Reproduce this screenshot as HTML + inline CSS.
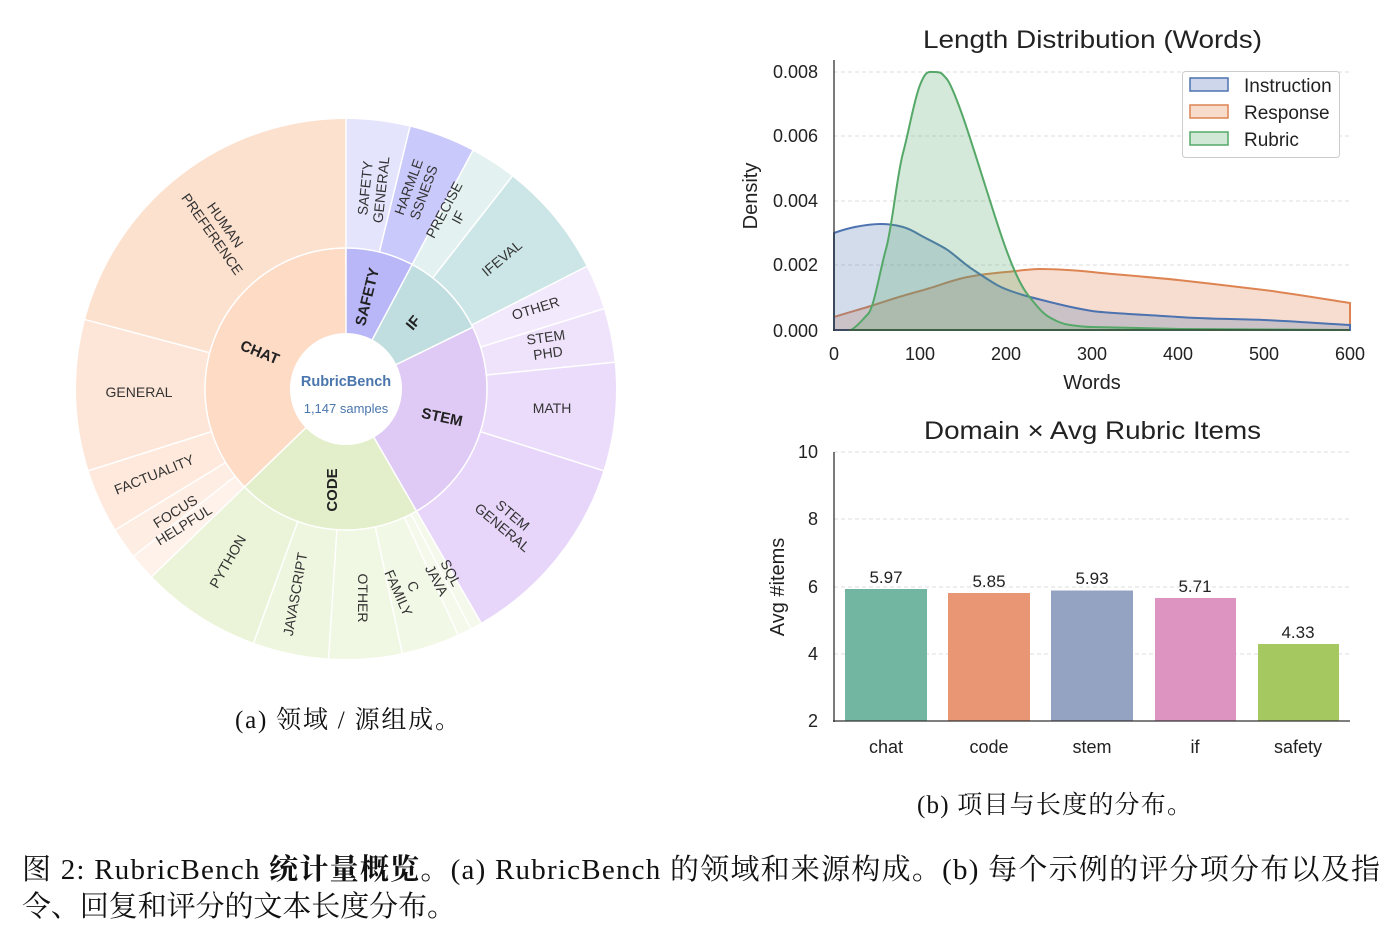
<!DOCTYPE html>
<html><head><meta charset="utf-8"><style>
html,body{margin:0;padding:0;background:#fff;}
body{width:1398px;height:948px;overflow:hidden;position:relative;}
svg{position:absolute;left:0;top:0;}
.ol{font-family:"Liberation Sans",sans-serif;font-size:14px;fill:#333;text-anchor:middle;}
.il{font-family:"Liberation Sans",sans-serif;font-size:15px;font-weight:bold;fill:#222;text-anchor:middle;}
.t{font-family:"Liberation Sans",sans-serif;fill:#222;}
.cap{font-family:"Liberation Serif","Noto Serif CJK SC",serif;fill:#111;}
</style></head><body>
<svg width="1398" height="948" viewBox="0 0 1398 948">
<g transform="translate(346,389) rotate(-90)" fill="none">
<g stroke-width="86">
<circle r="98" pathLength="360" stroke="#fddbc5" stroke-dasharray="134 360" stroke-dashoffset="-226"/>
<circle r="98" pathLength="360" stroke="#e3efcb" stroke-dasharray="76 360" stroke-dashoffset="-150"/>
<circle r="98" pathLength="360" stroke="#dfc9f5" stroke-dasharray="86 360" stroke-dashoffset="-64"/>
<circle r="98" pathLength="360" stroke="#c0dedf" stroke-dasharray="36 360" stroke-dashoffset="-28"/>
<circle r="98" pathLength="360" stroke="#b9b7f8" stroke-dasharray="28 360" stroke-dashoffset="0"/>
</g>
<g stroke-width="129">
<circle r="205.5" pathLength="360" stroke="#e5e4fd" stroke-dasharray="13.7 360" stroke-dashoffset="0"/>
<circle r="205.5" pathLength="360" stroke="#cac9fb" stroke-dasharray="14.3 360" stroke-dashoffset="-13.7"/>
<circle r="205.5" pathLength="360" stroke="#e3f2f1" stroke-dasharray="10 360" stroke-dashoffset="-28"/>
<circle r="205.5" pathLength="360" stroke="#cce5e6" stroke-dasharray="25 360" stroke-dashoffset="-38"/>
<circle r="205.5" pathLength="360" stroke="#f3e9fc" stroke-dasharray="9.7 360" stroke-dashoffset="-63"/>
<circle r="205.5" pathLength="360" stroke="#efe3fb" stroke-dasharray="11.6 360" stroke-dashoffset="-72.7"/>
<circle r="205.5" pathLength="360" stroke="#eadcfa" stroke-dasharray="23.3 360" stroke-dashoffset="-84.3"/>
<circle r="205.5" pathLength="360" stroke="#e7d6fa" stroke-dasharray="42.4 360" stroke-dashoffset="-107.6"/>
<circle r="205.5" pathLength="360" stroke="#f4f9eb" stroke-dasharray="5.5 360" stroke-dashoffset="-150"/>
<circle r="205.5" pathLength="360" stroke="#f2f8e6" stroke-dasharray="12.5 360" stroke-dashoffset="-155.5"/>
<circle r="205.5" pathLength="360" stroke="#f0f7e2" stroke-dasharray="15.7 360" stroke-dashoffset="-168"/>
<circle r="205.5" pathLength="360" stroke="#eef6df" stroke-dasharray="16.3 360" stroke-dashoffset="-183.7"/>
<circle r="205.5" pathLength="360" stroke="#ebf4d8" stroke-dasharray="26 360" stroke-dashoffset="-200"/>
<circle r="205.5" pathLength="360" stroke="#fef2ea" stroke-dasharray="5.8 360" stroke-dashoffset="-226"/>
<circle r="205.5" pathLength="360" stroke="#feede3" stroke-dasharray="6.8 360" stroke-dashoffset="-231.8"/>
<circle r="205.5" pathLength="360" stroke="#fee9dc" stroke-dasharray="13.8 360" stroke-dashoffset="-238.6"/>
<circle r="205.5" pathLength="360" stroke="#fde6d8" stroke-dasharray="32.5 360" stroke-dashoffset="-252.4"/>
<circle r="205.5" pathLength="360" stroke="#fde1cf" stroke-dasharray="75.1 360" stroke-dashoffset="-284.9"/>
</g>
<circle r="141" stroke="#fff" stroke-width="1.5"/>
</g>
<g transform="translate(346,389)" stroke="#fff" stroke-width="1.5">
<g transform="rotate(0)"><line x1="0" y1="-55" x2="0" y2="-272"/></g>
<g transform="rotate(28)"><line x1="0" y1="-55" x2="0" y2="-272"/></g>
<g transform="rotate(64)"><line x1="0" y1="-55" x2="0" y2="-141"/></g>
<g transform="rotate(150)"><line x1="0" y1="-55" x2="0" y2="-272"/></g>
<g transform="rotate(226)"><line x1="0" y1="-55" x2="0" y2="-272"/></g>
<g transform="rotate(13.7)"><line x1="0" y1="-141" x2="0" y2="-272"/></g>
<g transform="rotate(38)"><line x1="0" y1="-141" x2="0" y2="-272"/></g>
<g transform="rotate(63)"><line x1="0" y1="-141" x2="0" y2="-272"/></g>
<g transform="rotate(72.7)"><line x1="0" y1="-141" x2="0" y2="-272"/></g>
<g transform="rotate(84.3)"><line x1="0" y1="-141" x2="0" y2="-272"/></g>
<g transform="rotate(107.6)"><line x1="0" y1="-141" x2="0" y2="-272"/></g>
<g transform="rotate(152.5)"><line x1="0" y1="-141" x2="0" y2="-272"/></g>
<g transform="rotate(155.5)"><line x1="0" y1="-141" x2="0" y2="-272"/></g>
<g transform="rotate(168)"><line x1="0" y1="-141" x2="0" y2="-272"/></g>
<g transform="rotate(183.7)"><line x1="0" y1="-141" x2="0" y2="-272"/></g>
<g transform="rotate(200)"><line x1="0" y1="-141" x2="0" y2="-272"/></g>
<g transform="rotate(231.8)"><line x1="0" y1="-141" x2="0" y2="-272"/></g>
<g transform="rotate(238.6)"><line x1="0" y1="-141" x2="0" y2="-272"/></g>
<g transform="rotate(252.4)"><line x1="0" y1="-141" x2="0" y2="-272"/></g>
<g transform="rotate(284.9)"><line x1="0" y1="-141" x2="0" y2="-272"/></g>
<circle r="55" fill="#fff" stroke="#fff" stroke-width="2"/>
</g>
<text x="346" y="386" font-family="Liberation Sans,sans-serif" font-size="14.5" font-weight="bold" fill="#4a76ad" text-anchor="middle">RubricBench</text>
<text x="346" y="413" font-family="Liberation Sans,sans-serif" font-size="13" fill="#4a76ad" text-anchor="middle">1,147 samples</text>
<text class="il" transform="translate(258,357) rotate(22)">CHAT</text>
<text class="il" transform="translate(372,298) rotate(-76)">SAFETY</text>
<text class="il" transform="translate(417,326) rotate(-50)">IF</text>
<text class="il" transform="translate(441,422) rotate(12)">STEM</text>
<text class="il" transform="translate(337,490) rotate(-90)">CODE</text>
<text class="ol" transform="translate(218,230) rotate(55)"><tspan x="0" y="-4">HUMAN</tspan><tspan x="0" y="12">PREFERENCE</tspan></text>
<text class="ol" x="139" y="397">GENERAL</text>
<text class="ol" transform="translate(156,479) rotate(-22)">FACTUALITY</text>
<text class="ol" transform="translate(180,519) rotate(-32)"><tspan x="0" y="-4">FOCUS</tspan><tspan x="0" y="12">HELPFUL</tspan></text>
<text class="ol" transform="translate(232,564) rotate(-60)">PYTHON</text>
<text class="ol" transform="translate(300,595) rotate(-80)">JAVASCRIPT</text>
<text class="ol" transform="translate(358,598) rotate(90)">OTHER</text>
<text class="ol" transform="translate(405,590) rotate(66)"><tspan x="0" y="-4">C</tspan><tspan x="0" y="12">FAMILY</tspan></text>
<text class="ol" transform="translate(443,577) rotate(62)"><tspan x="0" y="-4">SQL</tspan><tspan x="0" y="12">JAVA</tspan></text>
<text class="ol" transform="translate(507,522) rotate(40)"><tspan x="0" y="-4">STEM</tspan><tspan x="0" y="12">GENERAL</tspan></text>
<text class="ol" x="552" y="413">MATH</text>
<text class="ol" transform="translate(547,346) rotate(-8)"><tspan x="0" y="-4">STEM</tspan><tspan x="0" y="12">PHD</tspan></text>
<text class="ol" transform="translate(537,313) rotate(-17)">OTHER</text>
<text class="ol" transform="translate(505,262) rotate(-40)">IFEVAL</text>
<text class="ol" transform="translate(452,214) rotate(-62)"><tspan x="0" y="-4">PRECISE</tspan><tspan x="0" y="12">IF</tspan></text>
<text class="ol" transform="translate(417,190) rotate(-70)"><tspan x="0" y="-4">HARMLE</tspan><tspan x="0" y="12">SSNESS</tspan></text>
<text class="ol" transform="translate(374,189) rotate(-84)"><tspan x="0" y="-4">SAFETY</tspan><tspan x="0" y="12">GENERAL</tspan></text>

<text class="cap" x="235" y="728" font-size="25" textLength="225" lengthAdjust="spacing">(a) 领域 / 源组成。</text>

<text class="t" x="923" y="48" font-size="25" textLength="339" lengthAdjust="spacingAndGlyphs">Length Distribution (Words)</text>
<g stroke="#ddd" stroke-dasharray="4,3" stroke-width="1">
<line x1="834" y1="72" x2="1350" y2="72"/><line x1="834" y1="136" x2="1350" y2="136"/>
<line x1="834" y1="201" x2="1350" y2="201"/><line x1="834" y1="265" x2="1350" y2="265"/>
</g>
<path d="M834,317 C850,312 865,308 877,304 S905,295 920,291 S950,281 963,278 S995,273 1006,272 S1030,269 1040,269 S1075,270 1092,272 S1150,277 1178,280 S1240,287 1264,290 S1330,300 1350,303 L1350,330 L834,330 Z" fill="#dd8452" fill-opacity="0.28" stroke="#dd8452" stroke-width="2"/>
<path d="M834,233 C845,229 850,228 855,227 S872,224 881,224 S896,225 903,227 S915,232 920,235 S938,244 946,249 S963,263 972,269 S990,281 997,285 S1013,292 1023,295 S1046,301 1058,304 S1080,309 1092,311 S1150,315 1178,317 S1240,319 1264,320 S1330,324 1350,325 L1350,330 L834,330 Z" fill="#4c72b0" fill-opacity="0.25" stroke="#4c72b0" stroke-width="2"/>
<path d="M851,330 C858,326 862,320 868,314 S880,270 886,249 S897,175 903,153 S914,100 920,85 S928,72 935,72 S942,74 946,78 S957,100 963,117 S977,160 985,185 S999,230 1006,249 S1020,285 1028,295 S1042,313 1049,317 S1062,324 1070,325 S1085,327 1092,327 L1180,329 L1350,330 L851,330 Z" fill="#55a868" fill-opacity="0.25" stroke="#55a868" stroke-width="2"/>
<line x1="834" y1="60" x2="834" y2="331" stroke="#333" stroke-width="1.3"/>
<line x1="833" y1="330" x2="1350" y2="330" stroke="#333" stroke-width="1.3"/>
<g class="t" font-size="18" text-anchor="end">
<text x="818" y="78">0.008</text><text x="818" y="142">0.006</text><text x="818" y="207">0.004</text><text x="818" y="271">0.002</text><text x="818" y="337">0.000</text>
</g>
<g class="t" font-size="18" text-anchor="middle">
<text x="834" y="360">0</text><text x="920" y="360">100</text><text x="1006" y="360">200</text><text x="1092" y="360">300</text><text x="1178" y="360">400</text><text x="1264" y="360">500</text><text x="1350" y="360">600</text>
</g>
<text class="t" x="1092" y="389" font-size="20" text-anchor="middle">Words</text>
<text class="t" transform="translate(757,196) rotate(-90)" font-size="20" text-anchor="middle">Density</text>
<rect x="1182.5" y="71.5" width="157" height="86" rx="3" fill="#fff" stroke="#ccc"/>
<rect x="1190" y="78" width="38" height="13" fill="#cdd6ea" stroke="#4c72b0" stroke-width="1.5"/>
<rect x="1190" y="105" width="38" height="13" fill="#f7dbcb" stroke="#dd8452" stroke-width="1.5"/>
<rect x="1190" y="132" width="38" height="13" fill="#d2e8d6" stroke="#55a868" stroke-width="1.5"/>
<g class="t" font-size="19"><text x="1244" y="92">Instruction</text><text x="1244" y="119">Response</text><text x="1244" y="146">Rubric</text></g>

<text class="t" x="924" y="439" font-size="25" textLength="337" lengthAdjust="spacingAndGlyphs">Domain × Avg Rubric Items</text>
<g stroke="#ddd" stroke-dasharray="4,3">
<line x1="834" y1="452" x2="1350" y2="452"/><line x1="834" y1="519" x2="1350" y2="519"/>
<line x1="834" y1="587" x2="1350" y2="587"/><line x1="834" y1="654" x2="1350" y2="654"/>
</g>
<rect x="845" y="589" width="82" height="132" fill="#72b6a1"/>
<rect x="948" y="593" width="82" height="128" fill="#e99675"/>
<rect x="1051" y="590.5" width="82" height="130.5" fill="#95a3c3"/>
<rect x="1155" y="598" width="81" height="123" fill="#dd94c1"/>
<rect x="1258" y="644" width="81" height="77" fill="#a5c861"/>
<g class="t" font-size="17" text-anchor="middle">
<text x="886" y="583">5.97</text><text x="989" y="587">5.85</text><text x="1092" y="584">5.93</text><text x="1195" y="592">5.71</text><text x="1298" y="638">4.33</text>
</g>
<g class="t" font-size="18" text-anchor="middle">
<text x="886" y="753">chat</text><text x="989" y="753">code</text><text x="1092" y="753">stem</text><text x="1195" y="753">if</text><text x="1298" y="753">safety</text>
</g>
<line x1="834" y1="452" x2="834" y2="722" stroke="#333" stroke-width="1.3"/>
<line x1="833" y1="721" x2="1350" y2="721" stroke="#333" stroke-width="1.3"/>
<g class="t" font-size="18" text-anchor="end">
<text x="818" y="458">10</text><text x="818" y="525">8</text><text x="818" y="593">6</text><text x="818" y="660">4</text><text x="818" y="727">2</text>
</g>
<text class="t" transform="translate(784,587) rotate(-90)" font-size="20" text-anchor="middle">Avg #items</text>
<text class="cap" x="917" y="813" font-size="25" textLength="275" lengthAdjust="spacing">(b) 项目与长度的分布。</text>

<text class="cap" x="22" y="879" font-size="29" textLength="1358" lengthAdjust="spacing">图 2: RubricBench <tspan font-weight="bold">统计量概览</tspan>。(a) RubricBench 的领域和来源构成。(b) 每个示例的评分项分布以及指</text>
<text class="cap" x="22" y="916" font-size="29" textLength="434" lengthAdjust="spacing">令、回复和评分的文本长度分布。</text>
</svg>
</body></html>
